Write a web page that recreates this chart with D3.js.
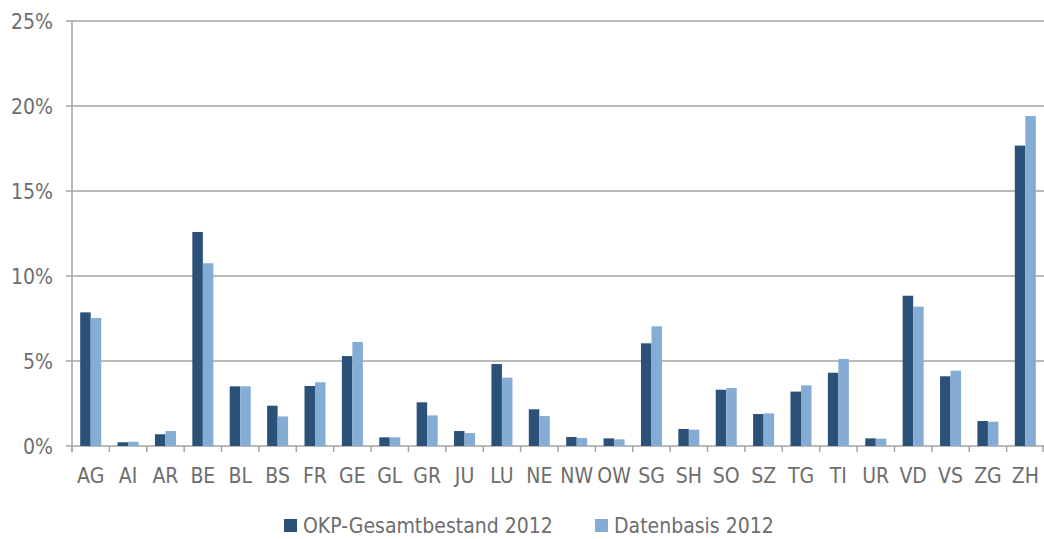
<!DOCTYPE html>
<html>
<head>
<meta charset="utf-8">
<style>
  body, html { margin: 0; padding: 0; background: #fff; overflow: hidden; }
  svg text { font-family: "Liberation Sans Narrow", "DejaVu Sans Condensed", "Liberation Sans", sans-serif; fill: #6d6d6d; }
</style>
</head>
<body>
<svg width="1044" height="539"></svg>
<script src="https://d3js.org/d3.v7.min.js"></script>
<script>
  // cantons
  var categories = ["AG","AI","AR","BE","BL","BS","FR","GE","GL","GR","JU","LU","NE","NW","OW","SG","SH","SO","SZ","TG","TI","UR","VD","VS","ZG","ZH"];
  // share in %
  var gesamtbestand = [7.86,0.22,0.69,12.59,3.51,2.37,3.53,5.29,0.51,2.57,0.88,4.82,2.16,0.53,0.45,6.04,1.0,3.31,1.88,3.2,4.31,0.45,8.84,4.1,1.47,17.67];
  var datenbasis    = [7.53,0.25,0.88,10.75,3.51,1.74,3.75,6.12,0.51,1.8,0.76,4.02,1.76,0.47,0.39,7.04,0.96,3.41,1.92,3.57,5.12,0.43,8.2,4.43,1.43,19.41];
  var seriesNames = ["OKP-Gesamtbestand 2012", "Datenbasis 2012"];
  var yTicks = [0, 5, 10, 15, 20, 25];

  var colors = ["#2b5178", "#85acd5"];
  var gridColor = "#a3a3a3";

  var svg = d3.select("svg");
  var plotLeft = 72, plotRight = 1044, plotTop = 21, plotBottom = 446;

  var x = d3.scaleBand().domain(categories).range([plotLeft, plotRight]);
  var y = d3.scaleLinear().domain([0, 25]).range([plotBottom, plotTop]);
  var xs = d3.scaleBand().domain([0, 1]).range([0, x.bandwidth()]).paddingOuter(0.78).paddingInner(0);

  // gridlines
  svg.append("g").selectAll("line")
    .data(yTicks).enter().append("line")
    .attr("x1", plotLeft - 6).attr("x2", plotRight)
    .attr("y1", function (d) { return y(d); })
    .attr("y2", function (d) { return y(d); })
    .attr("stroke", gridColor).attr("stroke-width", 1.5);

  // y labels
  svg.append("g").selectAll("text")
    .data(yTicks).enter().append("text")
    .attr("x", 53).attr("y", function (d) { return y(d); })
    .attr("dy", "0.36em")
    .attr("text-anchor", "end")
    .attr("font-size", 21)
    .text(function (d) { return d + "%"; });

  // bars
  var data = categories.map(function (c, i) { return [gesamtbestand[i], datenbasis[i]]; });
  var groups = svg.append("g").selectAll("g")
    .data(data).enter().append("g")
    .attr("transform", function (d, i) { return "translate(" + x(categories[i]) + ",0)"; });
  groups.selectAll("rect")
    .data(function (d) { return d; }).enter().append("rect")
    .attr("x", function (d, j) { return xs(j); })
    .attr("width", xs.bandwidth())
    .attr("y", function (d) { return y(d); })
    .attr("height", function (d) { return plotBottom - y(d); })
    .attr("fill", function (d, j) { return colors[j]; });

  // y axis line
  svg.append("line")
    .attr("x1", plotLeft).attr("x2", plotLeft).attr("y1", plotTop).attr("y2", plotBottom + 6)
    .attr("stroke", gridColor).attr("stroke-width", 1.5);

  // x ticks at band edges
  var edges = categories.map(function (c) { return x(c); }).concat([plotRight - 1]);
  svg.append("g").selectAll("line")
    .data(edges).enter().append("line")
    .attr("x1", function (d) { return d; }).attr("x2", function (d) { return d; })
    .attr("y1", plotBottom).attr("y2", plotBottom + 6)
    .attr("stroke", gridColor).attr("stroke-width", 1.5);

  // x labels
  svg.append("g").selectAll("text")
    .data(categories).enter().append("text")
    .attr("x", function (d) { return x(d) + x.bandwidth() / 2; })
    .attr("y", 483)
    .attr("text-anchor", "middle")
    .attr("font-size", 21)
    .text(function (d) { return d; });

  // legend
  var legendX = [284, 595];
  var legend = svg.append("g").selectAll("g")
    .data(seriesNames).enter().append("g")
    .attr("transform", function (d, i) { return "translate(" + legendX[i] + ",519)"; });
  legend.append("rect").attr("width", 13).attr("height", 13)
    .attr("fill", function (d, i) { return colors[i]; });
  legend.append("text").attr("x", 19).attr("y", 6.5).attr("dy", "0.36em")
    .attr("font-size", 21)
    .text(function (d) { return d; });
</script>
</body>
</html>
